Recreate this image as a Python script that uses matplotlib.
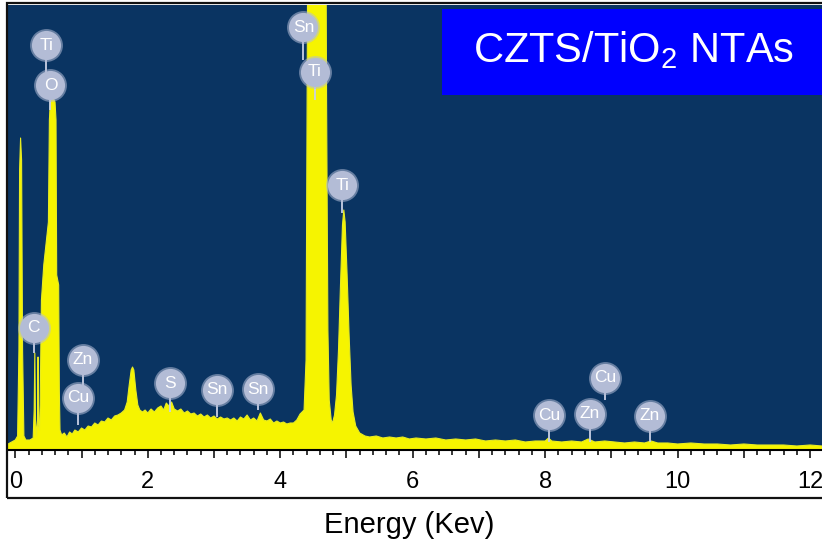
import matplotlib
matplotlib.use("Agg")
import matplotlib.pyplot as plt
from matplotlib.patches import Rectangle
from matplotlib.ticker import MultipleLocator, FuncFormatter

# EDS spectrum of CZTS/TiO2 nanotube arrays: energy (keV) and counts (a.u.)
energy_kev = [
    -0.11, 0.00, 0.035, 0.055, 0.065, 0.08, 0.095, 0.11, 0.13, 0.16, 0.22, 0.27,
    0.285, 0.295, 0.305, 0.32, 0.335, 0.344, 0.352, 0.365, 0.375, 0.385, 0.395,
    0.405, 0.43, 0.47, 0.50, 0.515, 0.53, 0.57, 0.60, 0.615, 0.625, 0.655, 0.665,
    0.675, 0.70, 0.74, 0.78, 0.82, 0.86, 0.90, 0.95, 1.00, 1.05, 1.10, 1.15,
    1.20, 1.25, 1.30, 1.35, 1.40, 1.45, 1.50, 1.55, 1.60, 1.65, 1.69, 1.72,
    1.75, 1.77, 1.79, 1.82, 1.85, 1.88, 1.92, 1.96, 2.00, 2.05, 2.10, 2.15,
    2.20, 2.24, 2.28, 2.32, 2.36, 2.40, 2.45, 2.50, 2.55, 2.60, 2.65, 2.70,
    2.75, 2.80, 2.85, 2.90, 2.95, 3.00, 3.05, 3.10, 3.15, 3.20, 3.25, 3.30,
    3.35, 3.40, 3.45, 3.50, 3.55, 3.60, 3.65, 3.70, 3.75, 3.80, 3.85, 3.90,
    3.95, 4.00, 4.05, 4.10, 4.15, 4.20, 4.25, 4.30, 4.36, 4.39, 4.41, 4.43,
    4.47, 4.53, 4.60, 4.65, 4.68, 4.70, 4.72, 4.74, 4.77, 4.79, 4.82, 4.85,
    4.88, 4.91, 4.94, 4.96, 4.98, 5.01, 5.04, 5.07, 5.10, 5.14, 5.20, 5.28,
    5.35, 5.45, 5.55, 5.65, 5.75, 5.85, 5.95, 6.05, 6.20, 6.35, 6.50, 6.65,
    6.80, 6.95, 7.10, 7.25, 7.40, 7.55, 7.70, 7.85, 8.00, 8.05, 8.10, 8.25,
    8.40, 8.55, 8.65, 8.75, 8.90, 9.05, 9.20, 9.35, 9.50, 9.60, 9.70, 9.85,
    10.0, 10.2, 10.4, 10.6, 10.8, 11.0, 11.2, 11.4, 11.6, 11.8, 12.0, 12.18,
]
counts = [
    6, 10, 14, 100, 280, 312, 290, 100, 14, 10, 10, 12,
    40, 97, 30, 14, 30, 93, 25, 20, 45, 100, 150,
    160, 185, 210, 228, 330, 350, 352, 348, 330, 175, 165, 60,
    20, 15, 17, 13, 18, 16, 20, 18, 22, 20, 24, 23,
    27, 25, 29, 28, 32, 30, 34, 35, 37, 40, 48, 65,
    80, 83, 80, 60, 45, 40, 38, 40, 37, 41, 38, 42,
    44, 40, 47, 44, 48, 41, 39, 41, 37, 39, 36, 37,
    34, 36, 33, 35, 32, 34, 31, 33, 31, 32, 30, 32,
    29, 33, 31, 35, 30, 32, 29, 37, 30, 29, 31, 27,
    29, 27, 28, 26, 27, 27, 30, 36, 40, 90, 400, 900,
    1300, 1400, 1300, 1000, 700, 350, 120, 50, 30, 27, 35, 55,
    100, 165, 225, 240, 228, 175, 115, 65, 38, 24, 17, 14,
    13, 14, 12, 13, 12, 13, 11, 12, 11, 12, 10, 11,
    10, 11, 9, 10, 9, 10, 8, 9, 9, 12, 9, 8,
    9, 8, 11, 8, 9, 8, 7, 8, 7, 9, 7, 7,
    6, 7, 6, 6, 5, 6, 5, 5, 5, 4, 5, 4,
]

# Element markers: symbol, badge position (keV, counts), bottom of its stem
element_labels = ["Ti", "O", "C", "Zn", "Cu", "S", "Sn", "Sn",
                  "Sn", "Ti", "Ti", "Cu", "Zn", "Cu", "Zn"]
label_energy = [0.47, 0.53, 0.28, 1.02, 0.95, 2.33, 3.05, 3.67,
                4.35, 4.52, 4.94, 8.06, 8.67, 8.90, 9.58]
label_height = [405, 365, 122, 90, 52, 67, 60, 61,
                423, 378, 265, 35, 36, 72, 34]
stem_bottom = [360, 340, 97, 60, 25, 38, 33, 40,
               390, 350, 237, 8, 8, 50, 8]

tick_values = [0, 2, 4, 6, 8, 10, 12]

W, H = 822, 547
fig = plt.figure(figsize=(W / 100, H / 100), dpi=100)
fig.patch.set_facecolor("white")

ax = fig.add_axes([8 / W, (H - 450) / H, 814 / W, 445 / H])
ax.set_facecolor("#0A3462")
ax.set_xlim(-0.11, 12.18)
ax.set_ylim(0, 445)

ax.fill_between(energy_kev, 0, counts, color="#F6F400", lw=0, zorder=2)
ax.plot(energy_kev, counts, color="#E8EC20", lw=0.8, zorder=2)

# Element badges with stems
badge_fill = "#B3BCD6"
for sym, e, h, sb in zip(element_labels, label_energy, label_height, stem_bottom):
    ax.plot([e, e], [sb, h], color="#C9D0E4", lw=1.3, zorder=3,
            solid_capstyle="butt")
    ax.scatter([e], [h], s=560, color=badge_fill, alpha=0.55, lw=0, zorder=4)
    ax.scatter([e], [h], s=440, color=badge_fill, lw=0, zorder=4)
    ax.text(e, h, sym, color="white", fontsize=12.5, ha="center", va="center",
            family="Liberation Sans", zorder=5)

for side in ["left", "right", "top"]:
    ax.spines[side].set_visible(False)
ax.spines["bottom"].set_color("black")
ax.spines["bottom"].set_linewidth(1.5)
ax.set_yticks([])

ax.xaxis.set_major_locator(MultipleLocator(1))
ax.xaxis.set_minor_locator(MultipleLocator(0.2))
ax.xaxis.set_major_formatter(
    FuncFormatter(lambda v, p: f"{int(round(v))}" if round(v) in tick_values else ""))
ax.tick_params(axis="x", which="major", direction="out", length=6, width=1.1,
               color="black", pad=9, labelsize=17, labelcolor="black")
ax.tick_params(axis="x", which="minor", direction="out", length=3.6, width=1.1,
               color="black")
for lab in ax.get_xticklabels():
    lab.set_family("Liberation Sans")

# Outer frame
fig.patches.append(Rectangle((7 / W, (H - 498) / H), 820 / W, 495 / H,
                             transform=fig.transFigure, fill=False,
                             edgecolor="#111111", lw=1.6, zorder=10))

# Sample name box
fig.patches.append(Rectangle((442 / W, (H - 95) / H), 385 / W, 86 / H,
                             transform=fig.transFigure, facecolor="#0000FF",
                             edgecolor="none", zorder=6))
fig.text(633.5 / W, (H - 62) / H, r"CZTS/TiO$_{\mathregular{2}}$ NTAs",
         color="white", fontsize=30, ha="center", va="baseline",
         family="Liberation Sans", zorder=7)

fig.text(409 / W, (H - 533) / H, "Energy (Kev)", fontsize=21, ha="center",
         va="baseline", family="Liberation Sans", color="black")

fig.savefig("out.png", dpi=100)
